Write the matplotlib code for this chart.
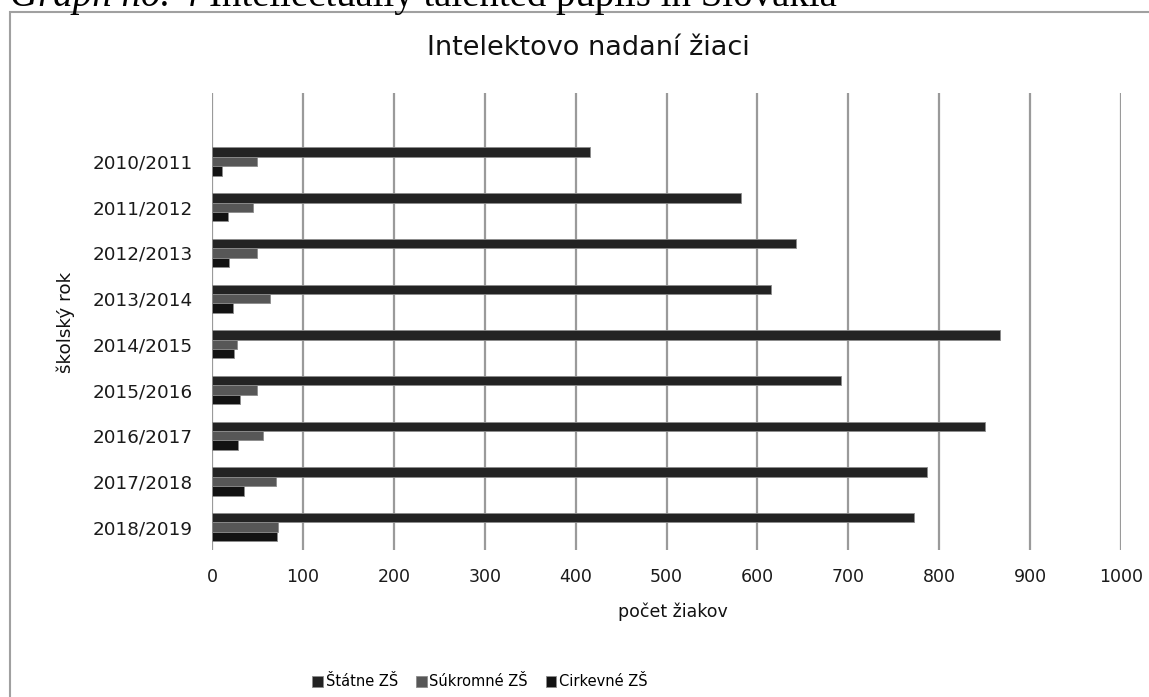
import matplotlib
matplotlib.use("Agg")
import matplotlib.pyplot as plt
import numpy as np
from matplotlib.patches import Rectangle

years = ["2010/2011", "2011/2012", "2012/2013", "2013/2014", "2014/2015",
         "2015/2016", "2016/2017", "2017/2018", "2018/2019"]
statne = [416, 582, 643, 615, 867, 692, 850, 787, 772]
sukromne = [50, 45, 49, 64, 27, 50, 56, 70, 73]
cirkevne = [11, 18, 19, 23, 24, 31, 29, 35, 71]
series_names = ["Štátne ZŠ", "Súkromné ZŠ", "Cirkevné ZŠ"]
colors = ["#232323", "#575757", "#121212"]

W, H = 1149, 697
fig = plt.figure(figsize=(W / 100, H / 100), dpi=100)
fig.patch.set_facecolor("white")

# chart border (cropped at right/bottom)
fig.patches.append(Rectangle((10 / W, -0.05), 1.2, 1 - 12 / H + 0.05,
                             transform=fig.transFigure, fill=False,
                             edgecolor="#a0a0a0", linewidth=1.5))

ax = fig.add_axes([212 / W, 1 - 550 / H, (1121 - 212) / W, (550 - 93) / H])
ax.set_facecolor("none")

y = np.arange(len(years))
h = 0.205
for i, (vals, name, c) in enumerate(zip([statne, sukromne, cirkevne], series_names, colors)):
    ax.barh(y + (i - 1) * h, vals, height=h, color=c, edgecolor="#8c8c8c",
            linewidth=0.6, label=name, zorder=3)

ax.set_xlim(0, 1000)
ax.set_ylim(len(years) - 0.5, -1.5)
ax.set_xticks(np.arange(0, 1001, 100))
ax.set_yticks(y)
ax.set_yticklabels(years)
ax.grid(axis="x", color="#9a9a9a", linewidth=1.6, zorder=1)
ax.grid(axis="y", visible=False)
for s in ax.spines.values():
    s.set_visible(False)
ax.tick_params(axis="both", length=0, colors="#1a1a1a")
ax.tick_params(axis="x", pad=13, labelsize=12.5)
ax.tick_params(axis="y", pad=14, labelsize=13.2)

fig.text(588 / W, 1 - 48 / H, "Intelektovo nadaní žiaci", ha="center", va="center",
         fontsize=19.5, color="#111111")
fig.text(673 / W, 1 - 612 / H, "počet žiakov", ha="center", va="center",
         fontsize=12.5, color="#111111")
fig.text(66 / W, 1 - 322 / H, "školský rok", ha="center", va="center",
         rotation=90, fontsize=13.2, color="#111111")

handles, labels = ax.get_legend_handles_labels()
leg = fig.legend(handles, labels, loc="center", bbox_to_anchor=(480 / W, 15 / H),
                 ncol=3, frameon=False, handlelength=0.75, handleheight=0.75,
                 handletextpad=0.2, columnspacing=1.2,
                 prop={"family": ["Liberation Sans Narrow", "DejaVu Sans"], "size": 10.5})

# cropped caption at top
fig.canvas.draw()
r = fig.canvas.get_renderer()
t1 = fig.text(10 / W, 1 - 6 / H, "Graph no. 4 ", fontstyle="italic",
              family=["Liberation Serif", "DejaVu Serif"], fontsize=28, va="baseline")
bb = t1.get_window_extent(renderer=r)
fig.text(bb.x1 / W, 1 - 6 / H, "Intellectually talented pupils in Slovakia",
         family=["Liberation Serif", "DejaVu Serif"], fontsize=28, va="baseline")

fig.savefig("out.png", dpi=100)
